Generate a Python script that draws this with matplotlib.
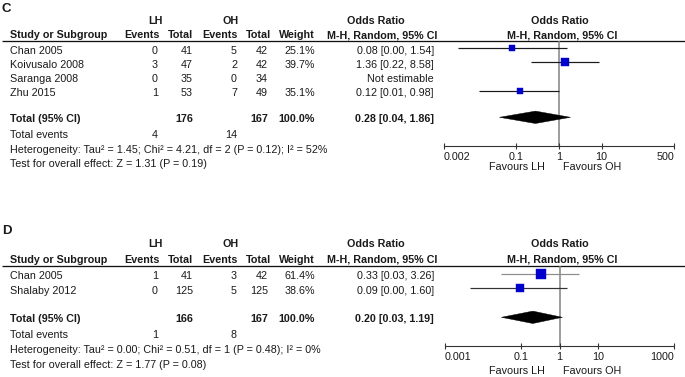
import matplotlib
matplotlib.use("Agg")
import matplotlib.pyplot as plt
from matplotlib.patches import Polygon

plt.rcParams['font.family'] = ['Liberation Sans', 'DejaVu Sans']

# ---------------- data: panel C ----------------
c_studies = ["Chan 2005", "Koivusalo 2008", "Saranga 2008", "Zhu 2015"]
c_lh_events = [0, 3, 0, 1]
c_lh_total = [41, 47, 35, 53]
c_oh_events = [5, 2, 0, 7]
c_oh_total = [42, 42, 34, 49]
c_weight = [25.1, 39.7, None, 35.1]
c_or = [0.08, 1.36, None, 0.12]
c_ci_low = [0.00, 0.22, None, 0.01]
c_ci_high = [1.54, 8.58, None, 0.98]
c_ci_low_drawn = [0.0043, 0.22, None, 0.013]   # lower ends as drawn (labels are rounded)
c_sum_lh_total, c_sum_oh_total = 176, 167
c_pooled = [0.28, 0.04, 1.86]
c_events_lh, c_events_oh = 4, 14
c_het = "Heterogeneity: Tau² = 1.45; Chi² = 4.21, df = 2 (P = 0.12); I² = 52%"
c_test = "Test for overall effect: Z = 1.31 (P = 0.19)"
c_ticks = [0.002, 0.1, 1, 10, 500]
c_ticklabels = ["0.002", "0.1", "1", "10", "500"]

# ---------------- data: panel D ----------------
d_studies = ["Chan 2005", "Shalaby 2012"]
d_lh_events = [1, 0]
d_lh_total = [41, 125]
d_oh_events = [3, 5]
d_oh_total = [42, 125]
d_weight = [61.4, 38.6]
d_or = [0.33, 0.09]
d_ci_low = [0.03, 0.00]
d_ci_high = [3.26, 1.60]
d_ci_low_drawn = [0.03, 0.0046]
d_sum_lh_total, d_sum_oh_total = 166, 167
d_pooled = [0.20, 0.03, 1.19]
d_events_lh, d_events_oh = 1, 8
d_het = "Heterogeneity: Tau² = 0.00; Chi² = 0.51, df = 1 (P = 0.48); I² = 0%"
d_test = "Test for overall effect: Z = 1.77 (P = 0.08)"
d_ticks = [0.001, 0.1, 1, 10, 1000]
d_ticklabels = ["0.001", "0.1", "1", "10", "1000"]

# ---------------- figure ----------------
W, H, DPI = 685, 377, 100
fig = plt.figure(figsize=(W / DPI, H / DPI), dpi=DPI)
bg = fig.add_axes([0, 0, 1, 1])
bg.set_xlim(0, W)
bg.set_ylim(H, 0)
bg.axis('off')

FS = 7.75
TXT = '#1a1a1a'
BLUE = '#0000CC'
PX = 72.0 / DPI  # points per pixel


def t(x, yc, s, ha='left', bold=False, size=FS):
    bg.text(x, yc + 3.8, s, ha=ha, va='baseline', fontsize=size,
            fontweight='bold' if bold else 'normal', color=TXT)


def fmt_or(o, lo, hi):
    return "%.2f [%.2f, %.2f]" % (o, lo, hi)


def panel(letter, lay, studies, lhe, lht, ohe, oht, wts, ors, los, his, los_drawn,
          sum_lh, sum_oh, pooled, ev_lh, ev_oh, het, test, ticks, ticklabels,
          xlim, sq_k, line_cols):
    t(2, lay['label'], letter, bold=True, size=9.5)
    t(155, lay['group'], "LH", ha='center', bold=True)
    t(231, lay['group'], "OH", ha='center', bold=True)
    t(376, lay['group'], "Odds Ratio", ha='center', bold=True)
    t(560, lay['group'], "Odds Ratio", ha='center', bold=True)
    hy = lay['header']
    t(10, hy, "Study or Subgroup", bold=True)
    t(160, hy, "Events", ha='right', bold=True)
    t(193, hy, "Total", ha='right', bold=True)
    t(238, hy, "Events", ha='right', bold=True)
    t(271, hy, "Total", ha='right', bold=True)
    t(315, hy, "Weight", ha='right', bold=True)
    t(382, hy, "M-H, Random, 95% CI", ha='center', bold=True)
    t(562, hy, "M-H, Random, 95% CI", ha='center', bold=True)
    bg.plot([2, W], [lay['line'], lay['line']], color='#111111', lw=1.3 * PX,
            solid_capstyle='butt')

    for i, s in enumerate(studies):
        yc = lay['rows'][i] + 1.8
        t(10, yc, s)
        t(158, yc, str(lhe[i]), ha='right')
        t(193, yc, str(lht[i]), ha='right')
        t(237, yc, str(ohe[i]), ha='right')
        t(268, yc, str(oht[i]), ha='right')
        if wts[i] is not None:
            t(315, yc, "%.1f%%" % wts[i], ha='right')
            t(434, yc, fmt_or(ors[i], los[i], his[i]), ha='right')
        else:
            t(434, yc, "Not estimable", ha='right')

    ty = lay['total']
    t(10, ty, "Total (95% CI)", bold=True)
    t(193, ty, str(sum_lh), ha='right', bold=True)
    t(268, ty, str(sum_oh), ha='right', bold=True)
    t(315, ty, "100.0%", ha='right', bold=True)
    t(434, ty, fmt_or(*pooled), ha='right', bold=True)
    t(10, lay['events'], "Total events")
    t(158, lay['events'], str(ev_lh), ha='right')
    t(237, lay['events'], str(ev_oh), ha='right')
    t(10, lay['het'], het)
    t(10, lay['test'], test)

    # forest axes: x on log scale, y in figure pixels
    x0, x1 = lay['ax_x']
    ytop, ybot = lay['line'], lay['axis']
    ax = fig.add_axes([x0 / W, 1 - ybot / H, (x1 - x0) / W, (ybot - ytop) / H])
    ax.set_xscale('log')
    ax.set_xlim(*xlim)
    ax.set_ylim(ybot, ytop)
    ax.patch.set_alpha(0)
    for sp in ['top', 'left', 'right']:
        ax.spines[sp].set_visible(False)
    ax.spines['bottom'].set_color('#333333')
    ax.spines['bottom'].set_linewidth(1.1 * PX)
    ax.set_yticks([])
    ax.set_xticks(ticks)
    ax.set_xticklabels(ticklabels)
    ax.xaxis.set_minor_locator(matplotlib.ticker.NullLocator())
    ax.tick_params(axis='x', direction='inout', length=6 * PX, width=1.1 * PX,
                   color='#333333', pad=2.3, labelsize=FS, labelcolor=TXT)
    labs = ax.get_xticklabels()
    labs[0].set_ha('left')
    labs[-1].set_ha('right')

    ax.axvline(1, color='#808080', lw=1.5 * PX, zorder=1)

    for i in range(len(studies)):
        if wts[i] is None:
            continue
        y = lay['rows'][i]
        ax.plot([los_drawn[i], his[i]], [y, y], color=line_cols[i], lw=1.2 * PX,
                zorder=2, clip_on=False, solid_capstyle='butt')
        ax.plot([ors[i]], [y], marker='s', linestyle='none',
                ms=sq_k * wts[i] ** 0.5 * PX, mfc=BLUE, mec=BLUE, mew=0.3,
                zorder=3, clip_on=False)

    po, plo, phi = pooled
    yd = lay['total'] - 0.7
    hh = 6.2
    ax.add_patch(Polygon([(plo, yd), (po, yd - hh), (phi, yd), (po, yd + hh)],
                         closed=True, facecolor='black', edgecolor='black', lw=0.3,
                         zorder=3, clip_on=False))

    fy = lay['fav']
    t(545, fy, "Favours LH", ha='right')
    t(563, fy, "Favours OH", ha='left')


lay_c = dict(label=8.7, group=20, header=34.3, line=40.5,
             rows=[48.3, 62.3, 76.5, 90.7], total=118, events=134, het=149, test=163,
             axis=145.7, fav=166, ax_x=(444, 674))
lay_d = dict(label=230, group=243.3, header=259, line=266,
             rows=[273.8, 288.3], total=318, events=334, het=349, test=364,
             axis=346, fav=370, ax_x=(445, 674))

panel("C", lay_c, c_studies, c_lh_events, c_lh_total, c_oh_events, c_oh_total,
      c_weight, c_or, c_ci_low, c_ci_high, c_ci_low_drawn,
      c_sum_lh_total, c_sum_oh_total, c_pooled, c_events_lh, c_events_oh,
      c_het, c_test, c_ticks, c_ticklabels, (0.002, 500), 1.13,
      ['#1a1a1a', '#1a1a1a', '#1a1a1a', '#1a1a1a'])
panel("D", lay_d, d_studies, d_lh_events, d_lh_total, d_oh_events, d_oh_total,
      d_weight, d_or, d_ci_low, d_ci_high, d_ci_low_drawn,
      d_sum_lh_total, d_sum_oh_total, d_pooled, d_events_lh, d_events_oh,
      d_het, d_test, d_ticks, d_ticklabels, (0.001, 1000), 1.3,
      ['#8c8c8c', '#333333'])

fig.savefig("out.png", dpi=DPI)
